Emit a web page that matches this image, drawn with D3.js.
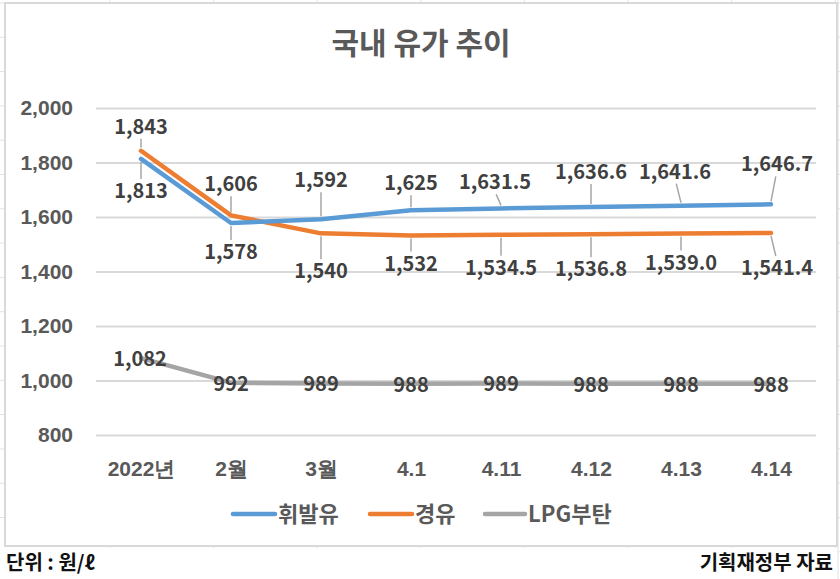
<!DOCTYPE html>
<html>
<head>
<meta charset="utf-8">
<script src="https://cdn.jsdelivr.net/npm/d3@7"></script>
<style>
  html, body { margin: 0; padding: 0; background: #fff; }
  svg { display: block; font-family: "Noto Sans CJK KR", "Noto Sans", sans-serif; }
</style>
</head>
<body>
<svg id="chart"></svg>
<script>
// data
const categories = ['2022년', '2월', '3월', '4.1', '4.11', '4.12', '4.13', '4.14'];
const gasoline = [1813, 1578, 1592, 1625, 1631.5, 1636.6, 1641.6, 1646.7];
const diesel = [1843, 1606, 1540, 1532, 1534.5, 1536.8, 1539.0, 1541.4];
const lpg = [1082, 992, 989, 988, 989, 988, 988, 988];
const seriesNames = ['휘발유', '경유', 'LPG부탄'];
const yTicks = [800, 1000, 1200, 1400, 1600, 1800, 2000];
const decimals = [0, 0, 0, 0, 1, 1, 1, 1];

const width = 840, height = 579;
const margin = { top: 108, right: 24, bottom: 144, left: 96 };

const svg = d3.select('#chart')
  .attr('width', width)
  .attr('height', height);

// spreadsheet grid behind the chart
const grid = svg.append('g').attr('stroke', '#e3e3e3').attr('stroke-width', 1);
d3.range(3, height, 34.3).forEach(y => {
  grid.append('line').attr('x1', 0).attr('x2', width).attr('y1', y).attr('y2', y);
});
d3.range(110, width, 103.6).forEach(x => {
  grid.append('line').attr('x1', x).attr('x2', x).attr('y1', 0).attr('y2', height);
});
grid.append('line').attr('x1', 838).attr('x2', 838).attr('y1', 0).attr('y2', height);

// chart area
svg.append('rect')
  .attr('x', 5).attr('y', 3)
  .attr('width', 832).attr('height', 543)
  .attr('fill', '#fff')
  .attr('stroke', '#d9d9d9')
  .attr('stroke-width', 2);

// bottom strip for notes
svg.append('rect')
  .attr('x', 0).attr('y', 548)
  .attr('width', 837).attr('height', height - 548)
  .attr('fill', '#fff');

const innerWidth = width - margin.left - margin.right;
const innerHeight = height - margin.top - margin.bottom;

const g = svg.append('g').attr('transform', `translate(${margin.left},${margin.top})`);

const xScale = d3.scalePoint()
  .domain(categories)
  .range([0, innerWidth])
  .padding(0.5);

const yScale = d3.scaleLinear()
  .domain([800, 2000])
  .range([innerHeight, 0]);

// gridlines + y axis
const yAxis = d3.axisLeft(yScale)
  .tickValues(yTicks)
  .tickSize(-innerWidth)
  .tickFormat(d3.format(','));
const yG = g.append('g').call(yAxis);
yG.select('.domain').remove();
yG.selectAll('.tick line').attr('stroke', '#d9d9d9').attr('stroke-width', 2);
yG.selectAll('.tick text')
  .attr('x', -23)
  .attr('fill', '#595959')
  .attr('font-size', 21)
  .attr('font-weight', 700);

// x axis (labels only)
const xAxis = d3.axisBottom(xScale).tickSize(0);
const xG = g.append('g').attr('transform', `translate(0,${innerHeight})`).call(xAxis);
xG.select('.domain').remove();
xG.selectAll('.tick text')
  .attr('dy', '0.35em')
  .attr('y', 34)
  .attr('fill', '#595959')
  .attr('font-size', 21)
  .attr('font-weight', 700);

// title
svg.append('text')
  .attr('x', 421).attr('y', 54)
  .attr('text-anchor', 'middle')
  .attr('fill', '#595959')
  .attr('font-size', 30)
  .attr('font-weight', 700)
  .text('국내 유가 추이');

const colors = ['#5b9bd5', '#ed7d31', '#a5a5a5'];
const allSeries = [gasoline, diesel, lpg];

// label offsets relative to each point (dx, dy of label centre)
const labelPos = [
  [[0, 32], [0, 29], [0, -39], [0, -27], [-6, -26], [0, -35], [-6, -34], [6, -40]],
  [[0, -24], [0, -31], [0, 38], [0, 28], [0, 33], [0, 35], [0, 29], [6, 35]],
  [[-1, 1], [0, 1], [0, 1], [0, 1], [0, 1], [0, 1], [0, 1], [0, 1]]
];

const line = d3.line()
  .x((d, i) => xScale(categories[i]))
  .y(d => yScale(d));

// draw lines
[2, 1, 0].forEach(s => {
  g.append('path')
    .datum(allSeries[s])
    .attr('fill', 'none')
    .attr('stroke', colors[s])
    .attr('stroke-width', 4.5)
    .attr('stroke-linejoin', 'round')
    .attr('stroke-linecap', 'round')
    .attr('d', line);
});

// leader lines + labels
const labelsG = g.append('g');
allSeries.forEach((vals, s) => {
  vals.forEach((v, i) => {
    const px = xScale(categories[i]);
    const py = yScale(v);
    const [dx, dy] = labelPos[s][i];
    const lx = px + dx, ly = py + dy;
    if (Math.abs(dy) > 20) {
      const sign = dy > 0 ? 1 : -1;
      labelsG.append('line')
        .attr('x1', px).attr('y1', py + sign * 3)
        .attr('x2', px + dx * 0.8).attr('y2', ly - sign * 12)
        .attr('stroke', '#a6a6a6')
        .attr('stroke-width', 1.5);
    }
    const fmt = decimals[i] ? d3.format(',.1f') : d3.format(',');
    labelsG.append('text')
      .attr('x', lx).attr('y', ly)
      .attr('dy', '0.35em')
      .attr('text-anchor', 'middle')
      .attr('fill', '#404040')
      .attr('font-size', 20)
      .attr('font-weight', 700)
      .text(s === 2 ? d3.format(',')(v) : fmt(v));
  });
});

// legend
const legendItems = [
  { x: 233, w: 42 },
  { x: 370, w: 42 },
  { x: 485, w: 40 }
];
const legend = svg.append('g').attr('transform', 'translate(0,514)');
seriesNames.forEach((name, s) => {
  const it = legendItems[s];
  legend.append('line')
    .attr('x1', it.x).attr('x2', it.x + it.w)
    .attr('y1', 0).attr('y2', 0)
    .attr('stroke', colors[s])
    .attr('stroke-width', 4.5)
    .attr('stroke-linecap', 'round');
  legend.append('text')
    .attr('x', it.x + it.w + 3)
    .attr('y', 0)
    .attr('dy', '0.35em')
    .attr('fill', '#595959')
    .attr('font-size', 22)
    .attr('font-weight', 700)
    .text(name);
});

// notes below the chart
svg.append('text')
  .attr('x', 6).attr('y', 563).attr('dy', '0.35em')
  .attr('fill', '#111')
  .attr('font-size', 20)
  .attr('font-weight', 700)
  .text('단위 : 원/ℓ');
svg.append('text')
  .attr('x', 833).attr('y', 563).attr('dy', '0.35em')
  .attr('text-anchor', 'end')
  .attr('fill', '#111')
  .attr('font-size', 20)
  .attr('font-weight', 700)
  .text('기획재정부 자료');
</script>
</body>
</html>
